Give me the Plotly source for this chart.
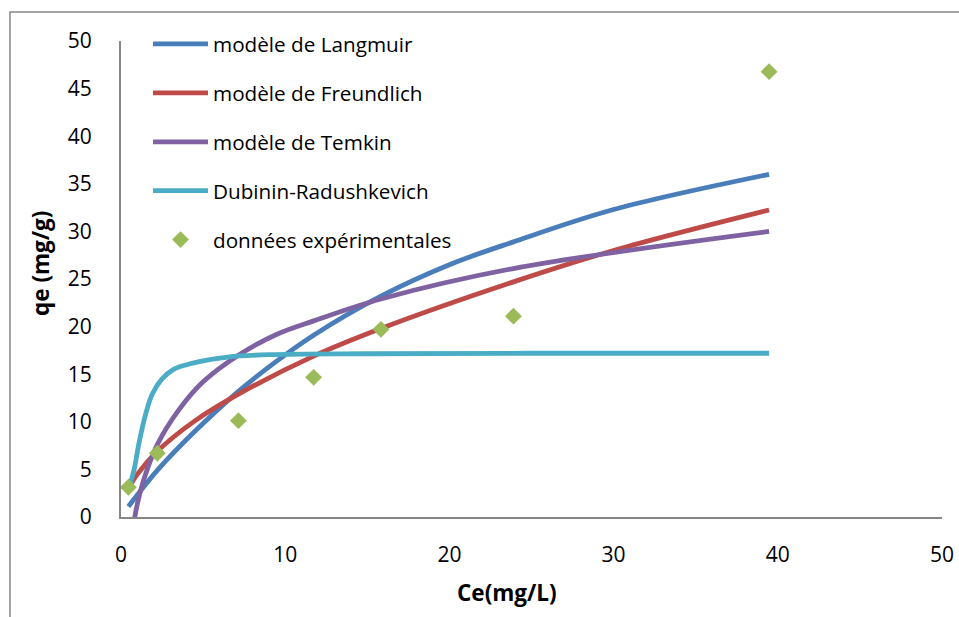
import plotly.graph_objects as go

# Experimental equilibrium data
ce_exp = [0.45, 2.21, 7.15, 11.73, 15.83, 23.9, 39.47]
qe_exp = [3.12, 6.69, 10.12, 14.67, 19.71, 21.1, 46.78]

# Fitted isotherm curves (qe in mg/g against Ce in mg/L)
ce_langmuir = [0.45, 2.21, 4.5, 7.15, 9.5, 11.73, 15.83, 20.0, 23.9, 30.0, 39.47]
qe_langmuir = [1.1, 4.9, 9.0, 13.2, 16.4, 19.1, 23.2, 26.5, 28.9, 32.3, 36.0]

ce_freundlich = [0.45, 1.0, 2.21, 4.5, 7.15, 11.73, 15.83, 23.9, 30.0, 39.47]
qe_freundlich = [3.0, 4.5, 6.9, 10.1, 12.9, 16.9, 19.8, 24.7, 28.0, 32.25]

ce_temkin = [0.78, 1.0, 1.4, 2.21, 3.5, 5.0, 7.15, 9.5, 11.73, 15.83, 23.9, 39.47]
qe_temkin = [-0.6, 1.4, 4.0, 7.6, 11.2, 14.2, 17.0, 19.2, 20.6, 22.9, 26.1, 30.0]

ce_dr = [0.45, 0.8, 1.1, 1.5, 1.9, 2.5, 3.2, 4.0, 5.0, 6.5, 9.0, 15.0, 25.0, 39.47]
qe_dr = [2.8, 5.0, 7.8, 10.8, 12.9, 14.5, 15.5, 16.0, 16.4, 16.8, 17.05, 17.15, 17.2, 17.2]

FONT = "Open Sans"
AXIS_GREY = "#868686"

# plot-area edges in pixels, used to place the frame and titles in paper units
PLOT_L, PLOT_R, PLOT_T, PLOT_B = 121, 942, 41, 517
PW, PH = PLOT_R - PLOT_L, PLOT_B - PLOT_T


def px(x):
    return (x - PLOT_L) / PW


def py(y):
    return (PLOT_B - y) / PH


curves = [
    ("modèle de Langmuir", ce_langmuir, qe_langmuir, "#4A7EBB"),
    ("modèle de Freundlich", ce_freundlich, qe_freundlich, "#BE4B48"),
    ("modèle de Temkin", ce_temkin, qe_temkin, "#7F62A1"),
    ("Dubinin-Radushkevich", ce_dr, qe_dr, "#4BACC6"),
]

fig = go.Figure()
for i, (name, xs, ys, color) in enumerate(curves):
    fig.add_trace(go.Scatter(
        x=xs, y=ys, name=name, mode="lines",
        line=dict(color=color, width=4.8, shape="spline", smoothing=1.0),
        legendgroup=f"g{i}",
    ))

fig.add_trace(go.Scatter(
    x=ce_exp, y=qe_exp, name="données expérimentales", mode="markers",
    marker=dict(symbol="diamond", size=13, color="#9BBB59", line=dict(width=0)),
    legendgroup="g5",
))

axis_common = dict(
    range=[0, 50], dtick=10, showgrid=False, zeroline=False,
    showline=True, linecolor=AXIS_GREY, linewidth=2, ticks="",
    automargin=False,
    tickfont=dict(family=FONT, size=21, color="#000000"),
)

fig.update_layout(
    width=959, height=617,
    margin=dict(l=PLOT_L, r=959 - PLOT_R, t=PLOT_T, b=617 - PLOT_B),
    paper_bgcolor="white", plot_bgcolor="white",
    font=dict(family=FONT, color="#000000"),
    xaxis=dict(axis_common, ticklabelstandoff=18),
    yaxis=dict(axis_common, dtick=5, ticklabelstandoff=23),
    showlegend=True,
    legend=dict(
        x=px(148), y=py(24), xanchor="left", yanchor="top",
        bgcolor="rgba(0,0,0,0)", borderwidth=0,
        font=dict(family=FONT, size=20.7, color="#000000"),
        tracegroupgap=19, itemwidth=55,
    ),
    annotations=[
        dict(text="<b>qe (mg/g)</b>", xref="paper", yref="paper",
             x=px(40), y=py(264), textangle=-90,
             xanchor="center", yanchor="middle",
             showarrow=False, font=dict(family=FONT, size=22.5)),
        dict(text="<b>Ce(mg/L)</b>", xref="paper", yref="paper",
             x=px(507), y=py(592),
             xanchor="center", yanchor="middle",
             showarrow=False, font=dict(family=FONT, size=22.5)),
    ],
    shapes=[
        # outer chart frame (right and bottom edges fall outside the page)
        dict(type="rect", xref="paper", yref="paper",
             x0=px(10), x1=px(965), y0=py(625), y1=py(12),
             line=dict(color=AXIS_GREY, width=1.5), layer="below"),
    ],
)

fig.write_html("out.html")
